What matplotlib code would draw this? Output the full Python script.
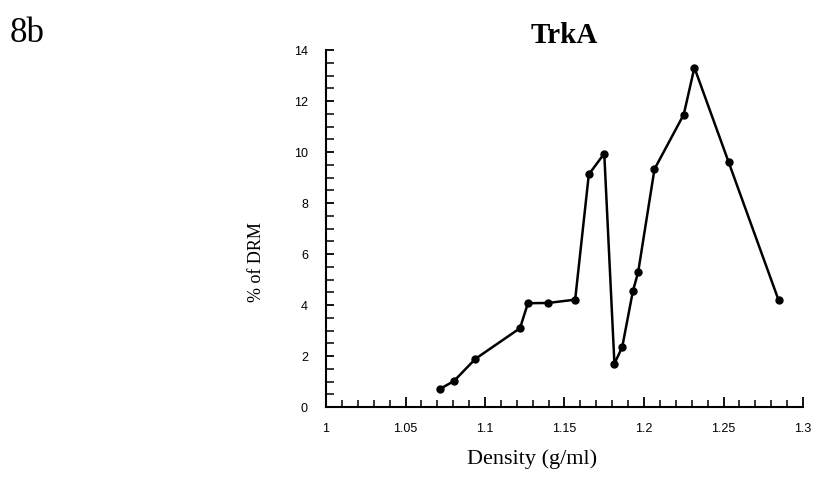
import matplotlib
matplotlib.use("Agg")
import matplotlib.pyplot as plt
from matplotlib.ticker import MultipleLocator, FixedLocator

density = [1.072, 1.0805, 1.094, 1.122, 1.127, 1.1397, 1.1567, 1.1653, 1.175,
           1.1814, 1.1863, 1.193, 1.1963, 1.2066, 1.225, 1.2317, 1.2533, 1.2847]
pct_drm = [0.72, 1.02, 1.89, 3.09, 4.07, 4.08, 4.21, 9.12, 9.94,
           1.70, 2.35, 4.54, 5.28, 9.33, 11.47, 13.31, 9.59, 4.18]

xticks = [1.0, 1.05, 1.1, 1.15, 1.2, 1.25, 1.3]
xticklabels = ["1", "1.05", "1.1", "1.15", "1.2", "1.25", "1.3"]
yticks = [0, 2, 4, 6, 8, 10, 12, 14]

fig = plt.figure(figsize=(8.2, 4.89), dpi=100)
ax = fig.add_axes([326/820, 1-408/489, (803-326)/820, (408-51)/489])

ax.plot(density, pct_drm, color="black", lw=1.8, marker="o", ms=5,
        mfc="black", mec="black", mew=1.0)

ax.set_xlim(1.0, 1.3)
ax.set_ylim(0, 14)
ax.spines["top"].set_visible(False)
ax.spines["right"].set_visible(False)
for s in ("left", "bottom"):
    ax.spines[s].set_linewidth(1.5)

ax.xaxis.set_major_locator(FixedLocator(xticks))
ax.set_xticklabels(xticklabels)
ax.xaxis.set_minor_locator(MultipleLocator(0.01))
ax.yaxis.set_major_locator(FixedLocator(yticks))
ax.yaxis.set_minor_locator(MultipleLocator(0.5))

ax.tick_params(axis="x", which="major", direction="in", length=7, width=1.3,
               pad=11, labelsize=9)
ax.tick_params(axis="x", which="minor", direction="in", length=5, width=1.1)
ax.tick_params(axis="y", which="major", direction="in", length=6, width=1.3,
               pad=13, labelsize=9)
ax.tick_params(axis="y", which="minor", direction="in", length=6, width=1.1)
for lab in ax.get_xticklabels() + ax.get_yticklabels():
    lab.set_fontfamily("Liberation Sans")

ax.set_xlabel("Density (g/ml)", family="Liberation Serif", fontsize=16)
ax.xaxis.set_label_coords(0.432, -0.115)
ax.set_ylabel("% of DRM", family="Liberation Serif", fontsize=13)
ax.yaxis.set_label_coords(-0.128, 0.41)

ax.set_title("TrkA", family="Liberation Serif", fontweight="bold", fontsize=21, pad=6)

fig.text(10/820, 1-17/489, "8b", family="Liberation Serif", fontsize=25,
         ha="left", va="top")

fig.savefig("out.png", dpi=100)
